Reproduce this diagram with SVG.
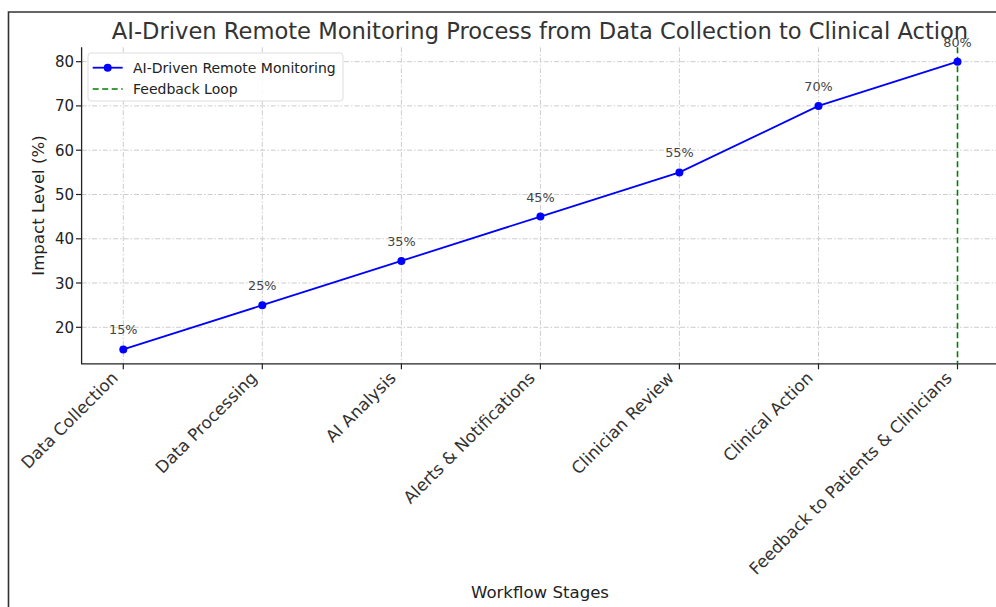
<svg xmlns="http://www.w3.org/2000/svg" width="996" height="607" viewBox="0 0 996 607">
<style>
text{font-family:"DejaVu Sans","Liberation Sans",sans-serif;}
.grid{stroke:#cccccc;stroke-width:1;stroke-dasharray:5,2,1.5,2;fill:none;}
.spine{stroke:#222;stroke-width:1.3;fill:none;}
.tick{stroke:#222;stroke-width:1.2;}
.ytl{font-size:15px;fill:#222;text-anchor:end;}
.xtl{font-size:16.8px;fill:#333;text-anchor:end;}
.ann{font-size:12.8px;fill:#444;text-anchor:middle;}
.lab{font-size:16.6px;fill:#222;text-anchor:middle;}
.leg{font-size:14px;fill:#222;}
</style>
<rect x="0" y="0" width="996" height="607" fill="#fff"/>
<path d="M8.5,607 V12 H996" fill="none" stroke="#333" stroke-width="1.6"/>
<text id="title" x="540" y="39" style="font-size:22.6px;fill:#333;text-anchor:middle;">AI-Driven Remote Monitoring Process from Data Collection to Clinical Action</text>
<g id="grid">
<line class="grid" x1="123.3" y1="47.3" x2="123.3" y2="363.8"/>
<line class="grid" x1="262.3" y1="47.3" x2="262.3" y2="363.8"/>
<line class="grid" x1="401.4" y1="47.3" x2="401.4" y2="363.8"/>
<line class="grid" x1="540.4" y1="47.3" x2="540.4" y2="363.8"/>
<line class="grid" x1="679.4" y1="47.3" x2="679.4" y2="363.8"/>
<line class="grid" x1="818.5" y1="47.3" x2="818.5" y2="363.8"/>
<line class="grid" x1="81.6" y1="327.3" x2="996" y2="327.3"/>
<line class="grid" x1="81.6" y1="283.0" x2="996" y2="283.0"/>
<line class="grid" x1="81.6" y1="238.8" x2="996" y2="238.8"/>
<line class="grid" x1="81.6" y1="194.5" x2="996" y2="194.5"/>
<line class="grid" x1="81.6" y1="150.2" x2="996" y2="150.2"/>
<line class="grid" x1="81.6" y1="105.9" x2="996" y2="105.9"/>
<line class="grid" x1="81.6" y1="61.7" x2="996" y2="61.7"/>
</g>
<g id="axes">
<path class="spine" d="M81.6,47.3 V363.8 H996"/>
<g class="tick">
<line x1="76" y1="327.3" x2="81.6" y2="327.3"/>
<line x1="76" y1="283.0" x2="81.6" y2="283.0"/>
<line x1="76" y1="238.8" x2="81.6" y2="238.8"/>
<line x1="76" y1="194.5" x2="81.6" y2="194.5"/>
<line x1="76" y1="150.2" x2="81.6" y2="150.2"/>
<line x1="76" y1="105.9" x2="81.6" y2="105.9"/>
<line x1="76" y1="61.7" x2="81.6" y2="61.7"/>
<line x1="123.3" y1="363.8" x2="123.3" y2="369.3"/>
<line x1="262.3" y1="363.8" x2="262.3" y2="369.3"/>
<line x1="401.4" y1="363.8" x2="401.4" y2="369.3"/>
<line x1="540.4" y1="363.8" x2="540.4" y2="369.3"/>
<line x1="679.4" y1="363.8" x2="679.4" y2="369.3"/>
<line x1="818.5" y1="363.8" x2="818.5" y2="369.3"/>
<line x1="957.5" y1="363.8" x2="957.5" y2="369.3"/>
</g>
<text class="ytl" x="74" y="332.8">20</text>
<text class="ytl" x="74" y="288.5">30</text>
<text class="ytl" x="74" y="244.3">40</text>
<text class="ytl" x="74" y="200.0">50</text>
<text class="ytl" x="74" y="155.7">60</text>
<text class="ytl" x="74" y="111.4">70</text>
<text class="ytl" x="74" y="67.2">80</text>
<text class="xtl" transform="translate(119,379) rotate(-45)">Data Collection</text>
<text class="xtl" transform="translate(258,379) rotate(-45)">Data Processing</text>
<text class="xtl" transform="translate(397,379) rotate(-45)">AI Analysis</text>
<text class="xtl" transform="translate(536,379) rotate(-45)">Alerts &amp; Notifications</text>
<text class="xtl" transform="translate(675,379) rotate(-45)">Clinician Review</text>
<text class="xtl" transform="translate(814,379) rotate(-45)">Clinical Action</text>
<text class="xtl" transform="translate(953,379) rotate(-45)">Feedback to Patients &amp; Clinicians</text>
<text class="lab" transform="translate(44,205.5) rotate(-90)">Impact Level (%)</text>
<text class="lab" x="540" y="598">Workflow Stages</text>
</g>
<g id="connectors">
<line id="feedback-loop" x1="957.5" y1="47.3" x2="957.5" y2="363.8" stroke="#008000" stroke-width="1.6" stroke-dasharray="6,3.5"/>
<polyline id="monitoring-line" points="123.3,349.4 262.3,305.2 401.4,260.9 540.4,216.6 679.4,172.4 818.5,105.9 957.5,61.7" fill="none" stroke="#0000ff" stroke-width="1.8"/>
</g>
<g id="node-data-collection"><circle cx="123.3" cy="349.4" r="4" fill="#0000ff"/><text class="ann" x="123.3" y="334.4">15%</text></g>
<g id="node-data-processing"><circle cx="262.3" cy="305.2" r="4" fill="#0000ff"/><text class="ann" x="262.3" y="290.2">25%</text></g>
<g id="node-ai-analysis"><circle cx="401.4" cy="260.9" r="4" fill="#0000ff"/><text class="ann" x="401.4" y="245.9">35%</text></g>
<g id="node-alerts"><circle cx="540.4" cy="216.6" r="4" fill="#0000ff"/><text class="ann" x="540.4" y="201.6">45%</text></g>
<g id="node-clinician-review"><circle cx="679.4" cy="172.4" r="4" fill="#0000ff"/><text class="ann" x="679.4" y="157.4">55%</text></g>
<g id="node-clinical-action"><circle cx="818.5" cy="105.9" r="4" fill="#0000ff"/><text class="ann" x="818.5" y="90.9">70%</text></g>
<g id="node-feedback"><circle cx="957.5" cy="61.7" r="4" fill="#0000ff"/><text class="ann" x="957.5" y="46.7">80%</text></g>
<g id="legend">
<rect x="88" y="53" width="255" height="48" rx="3" fill="#fff" fill-opacity="0.85" stroke="#ddd" stroke-width="1"/>
<line x1="92.7" y1="67.7" x2="122.7" y2="67.7" stroke="#0000ff" stroke-width="1.8"/>
<circle cx="107.7" cy="67.7" r="4" fill="#0000ff"/>
<text class="leg" x="133" y="72.5">AI-Driven Remote Monitoring</text>
<line x1="92.7" y1="89" x2="122.7" y2="89" stroke="#008000" stroke-width="1.6" stroke-dasharray="6,3.5"/>
<text class="leg" x="133" y="93.8">Feedback Loop</text>
</g>
</svg>
